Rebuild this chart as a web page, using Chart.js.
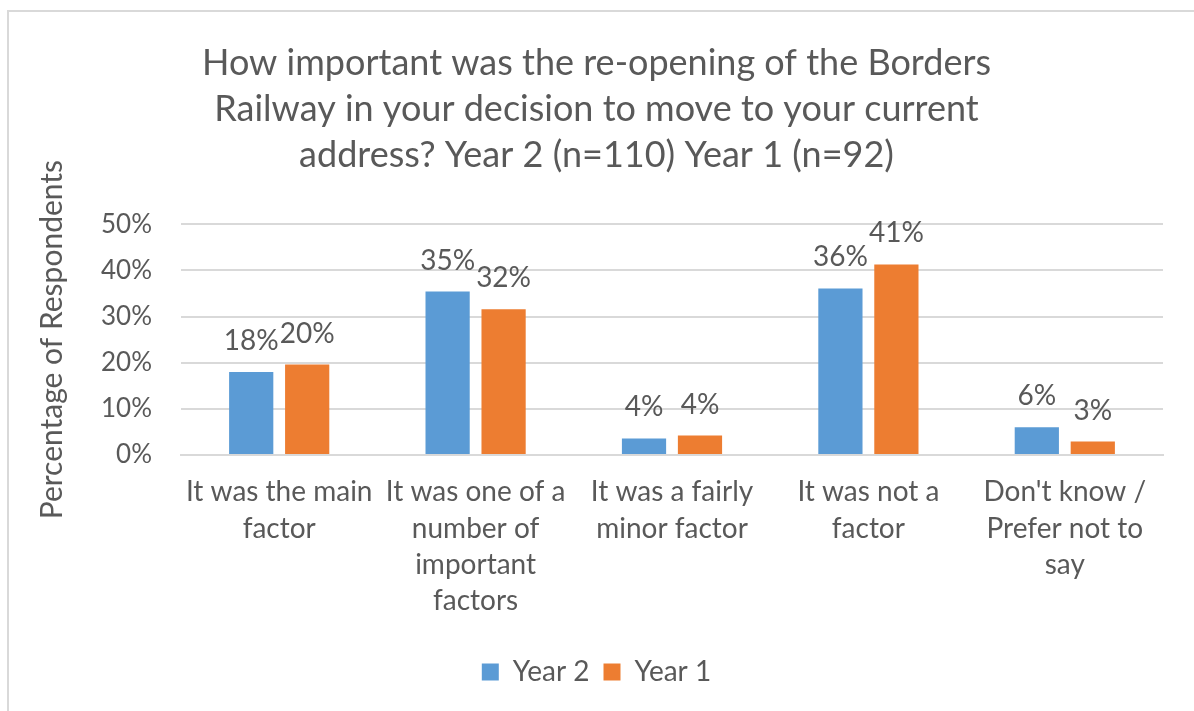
<!DOCTYPE html>
<html>
<head>
<meta charset="utf-8">
<script src="https://cdn.jsdelivr.net/npm/chart.js@4"></script>
<style>
  html, body { margin: 0; padding: 0; background: #fff; overflow: hidden; }
  .frame {
    position: absolute; left: 7px; top: 10px; width: 1300px; height: 800px;
    border-top: 2px solid #d9d9d9; border-left: 2px solid #d9d9d9;
  }
  .chart { position: absolute; left: 0; top: 0; width: 1194px; height: 711px; }
</style>
</head>
<body>
<div class="frame"></div>
<div class="chart"><canvas id="chart" width="1194" height="711"></canvas></div>
<script>
const categories = [
    ['It was the main', 'factor'],
    ['It was one of a', 'number of', 'important', 'factors'],
    ['It was a fairly', 'minor factor'],
    ['It was not a', 'factor'],
    ["Don't know /", 'Prefer not to', 'say']
];
const year2 = [18.0, 35.4, 3.6, 36.1, 6.0];
const year1 = [19.6, 31.6, 4.2, 41.3, 2.9];
const yTicks = [0, 10, 20, 30, 40, 50];

const textColor = '#595959';
const fontFamily = 'Lato, "Open Sans", sans-serif';

// value labels above each bar
const barLabels = {
    id: 'barLabels',
    afterDatasetsDraw(chart) {
        const ctx = chart.ctx;
        ctx.save();
        ctx.font = '28px ' + fontFamily;
        ctx.fillStyle = textColor;
        ctx.textAlign = 'center';
        ctx.textBaseline = 'alphabetic';
        chart.data.datasets.forEach((ds, i) => {
            chart.getDatasetMeta(i).data.forEach((bar, j) => {
                ctx.fillText(Math.round(ds.data[j]) + '%', bar.x, bar.y - 22);
            });
        });
        ctx.restore();
    }
};

const ctx = document.getElementById('chart').getContext('2d');

new Chart(ctx, {
    type: 'bar',
    data: {
        labels: categories,
        datasets: [
            { label: 'Year 2', data: year2, backgroundColor: '#5B9BD5' },
            { label: 'Year 1', data: year1, backgroundColor: '#ED7D31' }
        ]
    },
    options: {
        responsive: false,
        animation: false,
        layout: { padding: { left: 30, right: 31, top: 0, bottom: 15 } },
        datasets: { bar: { categoryPercentage: 0.57, barPercentage: 0.79 } },
        scales: {
            x: {
                grid: { display: false, drawTicks: false },
                border: { color: '#d9d9d9', width: 2 },
                ticks: {
                    color: textColor, padding: 19, maxRotation: 0, autoSkip: false,
                    font: { family: fontFamily, size: 28, lineHeight: 1.3 }
                },
                afterFit: (scale) => { scale.height = 189; }
            },
            y: {
                min: 0, max: 50,
                afterBuildTicks: (scale) => { scale.ticks = yTicks.map(v => ({ value: v })); },
                grid: { color: '#d9d9d9', lineWidth: 2, drawTicks: false },
                border: { display: false },
                ticks: {
                    color: textColor, padding: 29,
                    font: { family: fontFamily, size: 26 },
                    callback: (v) => v + '%'
                },
                title: {
                    display: true, text: 'Percentage of Respondents', color: textColor,
                    font: { family: fontFamily, size: 30 }, padding: 4
                },
                afterFit: (scale) => { scale.width = 151; }
            }
        },
        plugins: {
            title: {
                display: true,
                text: [
                    'How important was the re-opening of the Borders',
                    'Railway in your decision to move to your current',
                    'address? Year 2 (n=110) Year 1 (n=92)'
                ],
                color: textColor,
                font: { family: fontFamily, size: 36, weight: 'normal', lineHeight: 1.28 },
                padding: { top: 40, bottom: 46 }
            },
            legend: {
                position: 'bottom',
                labels: {
                    color: textColor, boxWidth: 17, boxHeight: 17, padding: 14,
                    font: { family: fontFamily, size: 28 }
                }
            },
            tooltip: { enabled: false }
        }
    },
    plugins: [barLabels]
});
</script>
</body>
</html>
